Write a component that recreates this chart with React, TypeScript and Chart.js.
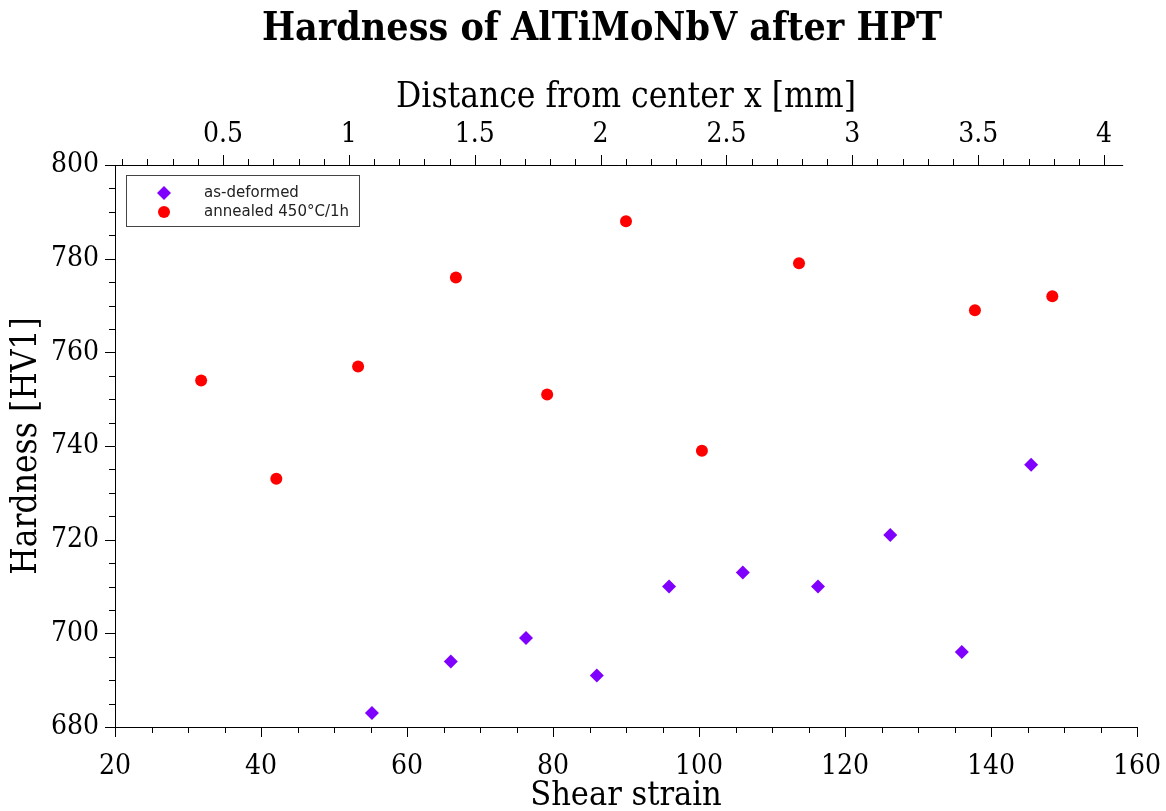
import React, { useEffect, useRef } from "react";
import { Chart, registerables } from "chart.js";

Chart.register(...registerables);

const deformedStrain = [55.2, 66.0, 76.3, 86.0, 95.9, 106.0, 116.3, 126.2, 136.0, 145.5];
const deformedHardness = [683, 694, 699, 691, 710, 713, 710, 721, 696, 736];
const annealedStrain = [31.8, 42.1, 53.3, 66.7, 79.2, 90.0, 100.4, 113.7, 137.8, 148.4];
const annealedHardness = [754, 733, 757, 776, 751, 788, 739, 779, 769, 772];

const strainRange = [20, 160];
const hardnessRange = [680, 800];
const distanceRange = [0.071, 4.131];
const distanceAxisEnd = 4.076;
const distanceTicks = [0.5, 1, 1.5, 2, 2.5, 3, 3.5, 4];

const seriesLabels = ["as-deformed", "annealed 450°C/1h"];
const chartTitle = "Hardness of AlTiMoNbV after HPT";

const SERIF = "'DejaVu Serif Condensed', 'DejaVu Serif', serif";

type TickSpec = { major: number; minor: number };
const tickSpecs: Record<string, TickSpec> = {
  x: { major: 20, minor: 5 },
  y: { major: 20, minor: 5 },
  x2: { major: 0.5, minor: 0.1 },
};

const ticksPlugin = {
  id: "customTicks",
  afterDraw(chart: any) {
    const ctx = chart.ctx;
    ctx.save();
    ctx.strokeStyle = "#000";
    ctx.lineWidth = 1;
    for (const id of Object.keys(tickSpecs)) {
      const scale = chart.scales[id];
      const spec = tickSpecs[id];
      const n0 = Math.ceil(scale.min / spec.minor - 1e-6);
      const n1 = Math.floor(scale.max / spec.minor + 1e-6);
      for (let n = n0; n <= n1; n++) {
        const v = n * spec.minor;
        if (id === "x2" && v > distanceAxisEnd) continue;
        const r = v / spec.major;
        const isMajor = Math.abs(r - Math.round(r)) < 1e-6;
        const len = isMajor ? 10 : 6;
        const p = Math.round(scale.getPixelForValue(v)) + 0.5;
        ctx.beginPath();
        if (id === "y") {
          const x = chart.chartArea.left;
          ctx.moveTo(x, p);
          ctx.lineTo(x - len, p);
        } else if (id === "x") {
          const y = chart.chartArea.bottom;
          ctx.moveTo(p, y);
          ctx.lineTo(p, y + len);
        } else {
          const y = chart.chartArea.top;
          ctx.moveTo(p, y);
          ctx.lineTo(p, y - len);
        }
        ctx.stroke();
      }
    }
    const top = chart.scales.x2;
    ctx.beginPath();
    ctx.moveTo(chart.chartArea.left, chart.chartArea.top + 0.5);
    ctx.lineTo(top.getPixelForValue(distanceAxisEnd), chart.chartArea.top + 0.5);
    ctx.stroke();
    ctx.restore();
  },
};

const titleLegendPlugin = {
  id: "titleLegend",
  afterDraw(chart: any) {
    const ctx = chart.ctx;
    ctx.save();
    ctx.fillStyle = "#000";
    ctx.font = `bold 39px ${SERIF}`;
    ctx.textAlign = "center";
    ctx.textBaseline = "alphabetic";
    ctx.fillText(chartTitle, 602, 40);

    const { left, top } = chart.chartArea;
    const bx = left + 11;
    const by = top + 10;
    const bw = 233;
    const bh = 51;
    ctx.fillStyle = "#fff";
    ctx.fillRect(bx, by, bw, bh);
    ctx.strokeStyle = "#444";
    ctx.lineWidth = 1;
    ctx.strokeRect(bx + 0.5, by + 0.5, bw, bh);
    ctx.font = "15px 'DejaVu Sans', sans-serif";
    ctx.textAlign = "left";
    ctx.textBaseline = "middle";
    chart.data.datasets.forEach((ds: any, i: number) => {
      const cy = by + 18 + i * 19;
      const cx = bx + 38;
      ctx.fillStyle = ds.backgroundColor;
      ctx.beginPath();
      if (ds.pointStyle === "rectRot") {
        const r = 7;
        ctx.moveTo(cx - r, cy);
        ctx.lineTo(cx, cy - r);
        ctx.lineTo(cx + r, cy);
        ctx.lineTo(cx, cy + r);
        ctx.closePath();
      } else {
        ctx.arc(cx, cy, 6, 0, Math.PI * 2);
      }
      ctx.fill();
      ctx.fillStyle = "#222";
      ctx.fillText(ds.label, bx + 78, cy);
    });
    ctx.restore();
  },
};

export default function App() {
  const ref = useRef<HTMLCanvasElement | null>(null);
  useEffect(() => {
    if (!ref.current) return;
    const chart = new Chart(ref.current, {
      type: "scatter",
      data: {
        datasets: [
          {
            label: seriesLabels[0],
            data: deformedStrain.map((s, i) => ({ x: s, y: deformedHardness[i] })),
            pointStyle: "rectRot",
            pointRadius: 7,
            backgroundColor: "#8000ff",
            borderColor: "#8000ff",
            borderWidth: 0,
          },
          {
            label: seriesLabels[1],
            data: annealedStrain.map((s, i) => ({ x: s, y: annealedHardness[i] })),
            pointStyle: "circle",
            pointRadius: 6,
            backgroundColor: "#ff0000",
            borderColor: "#ff0000",
            borderWidth: 0,
          },
        ],
      },
      options: {
        animation: false,
        responsive: false,
        layout: { padding: { top: 50, right: 29, left: 0, bottom: 0 } },
        plugins: { legend: { display: false }, title: { display: false }, tooltip: { enabled: false } },
        scales: {
          x: {
            type: "linear",
            position: "bottom",
            min: strainRange[0],
            max: strainRange[1],
            grid: { display: false, drawTicks: true, tickLength: 10 },
            border: { display: true, color: "#000", width: 1 },
            ticks: { stepSize: 20, autoSkip: false, color: "#000", font: { family: SERIF, size: 28 }, padding: 13, maxRotation: 0 },
            title: { display: true, text: "Shear strain", color: "#000", font: { family: SERIF, size: 34, lineHeight: 0.85 }, padding: 0 },
            afterFit: (s: any) => { s.height = 84; s.paddingLeft = 0; s.paddingRight = 0; },
          },
          x2: {
            type: "linear",
            position: "top",
            min: distanceRange[0],
            max: distanceRange[1],
            grid: { display: false, drawTicks: true, tickLength: 10 },
            border: { display: false },
            ticks: {
              autoSkip: false,
              color: "#000",
              font: { family: SERIF, size: 28 },
              padding: 3,
              maxRotation: 0,
              callback: (v: any) => String(Number(v)),
            },
            afterBuildTicks: (s: any) => {
              s.ticks = distanceTicks.map((v) => ({ value: v }));
            },
            title: { display: true, text: "Distance from center x [mm]", color: "#000", font: { family: SERIF, size: 35 }, padding: { top: 27, bottom: 0 } },
            afterFit: (s: any) => { s.height = 115; s.paddingLeft = 0; s.paddingRight = 0; },
          },
          y: {
            type: "linear",
            min: hardnessRange[0],
            max: hardnessRange[1],
            grid: { display: false, drawTicks: true, tickLength: 10 },
            border: { display: true, color: "#000", width: 1 },
            ticks: { stepSize: 20, autoSkip: false, color: "#000", font: { family: SERIF, size: 28 }, padding: 6 },
            title: { display: true, text: "Hardness [HV1]", color: "#000", font: { family: SERIF, size: 35 }, padding: { top: 6, bottom: 0 } },
            afterFit: (s: any) => { s.width = 115; s.paddingTop = 0; s.paddingBottom = 0; },
          },
        },
      },
      plugins: [ticksPlugin, titleLegendPlugin],
    });
    return () => chart.destroy();
  }, []);
  return (
    <div style={{ position: "fixed", left: 0, top: 0, width: 1166, height: 811, background: "#fff" }}>
      <canvas ref={ref} width={1166} height={811} style={{ width: 1166, height: 811, display: "block" }} />
    </div>
  );
}
